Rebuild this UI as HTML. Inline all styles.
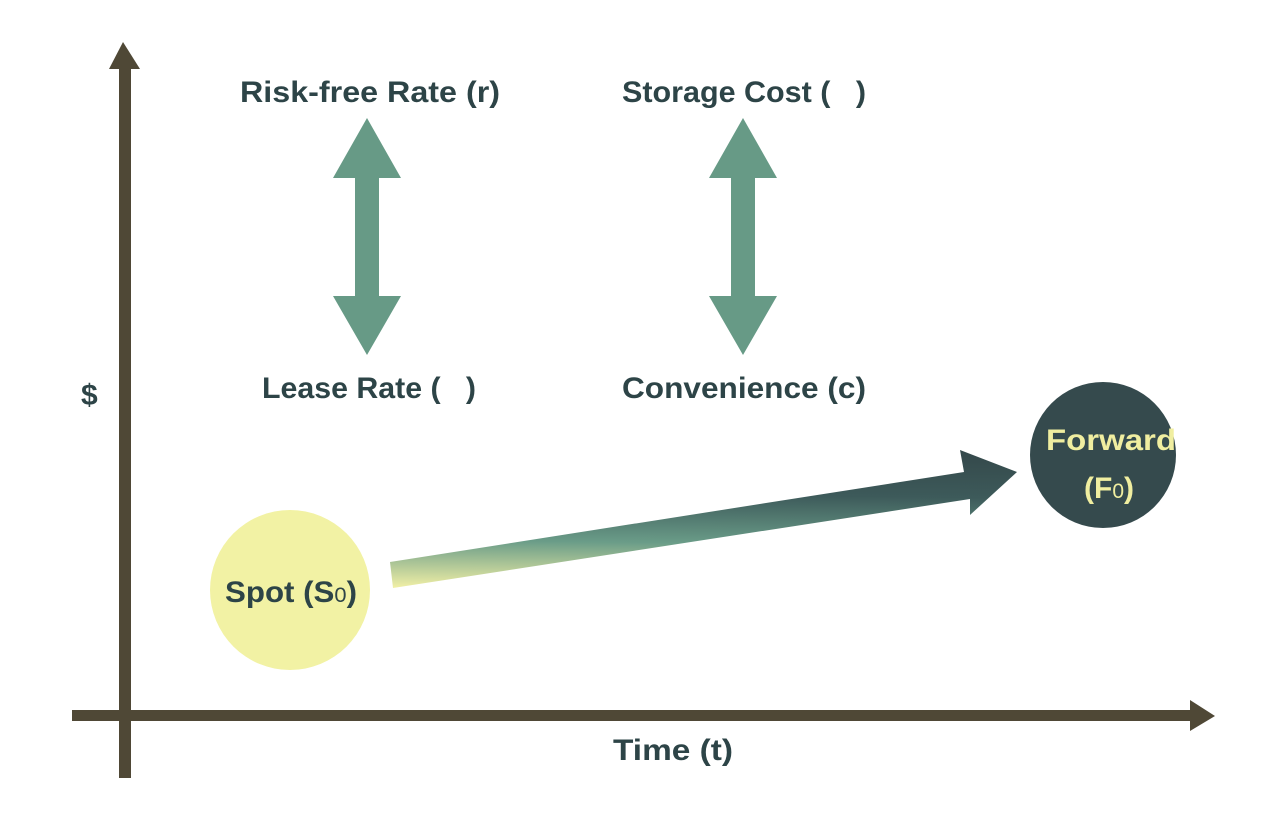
<!DOCTYPE html>
<html><head><style>
body{margin:0;background:#fff;}
svg text{font-family:"Liberation Sans",sans-serif;font-weight:bold;white-space:pre;}
</style></head><body>
<svg width="1277" height="818" viewBox="0 0 1277 818" xmlns="http://www.w3.org/2000/svg">
<defs>
<linearGradient id="g" x1="0" y1="1" x2="0.05" y2="0" gradientUnits="objectBoundingBox">
<stop offset="0" stop-color="#f2f0a6"/>
<stop offset="0.35" stop-color="#6a9c88"/>
<stop offset="0.7" stop-color="#3d5a5a"/>
<stop offset="1" stop-color="#354a4c"/>
</linearGradient>
</defs>
<rect x="119" y="68" width="12" height="710" fill="#4f4836"/>
<polygon points="123,42 109,69 140,69" fill="#4f4836"/>
<rect x="72" y="710" width="1120" height="11" fill="#4f4836"/>
<polygon points="1215,716 1190,700 1190,731" fill="#4f4836"/>
<g fill="#679a86">
<polygon points="367,118 401,178 379,178 379,296 401,296 367,355 333,296 355,296 355,178 333,178"/>
<polygon points="743,118 777,178 755,178 755,296 777,296 743,355 709,296 731,296 731,178 709,178"/>
</g>
<polygon points="390,562 964,472 960,450 1017,472 970,515 970,499 393,588" fill="url(#g)"/>
<circle cx="290" cy="590" r="80" fill="#f2f2a4"/>
<circle cx="1103" cy="455" r="73" fill="#354a4d"/>
<g fill="#2d4447" font-size="30">
<text x="240" y="102" textLength="260" lengthAdjust="spacingAndGlyphs">Risk-free Rate (r)</text>
<text x="622" y="102" textLength="244" lengthAdjust="spacingAndGlyphs">Storage Cost (   )</text>
<text x="262" y="398" textLength="214" lengthAdjust="spacingAndGlyphs">Lease Rate (   )</text>
<text x="622" y="398" textLength="244" lengthAdjust="spacingAndGlyphs">Convenience (c)</text>
<text x="81" y="405">$</text>
<text x="613" y="760" textLength="120" lengthAdjust="spacingAndGlyphs">Time (t)</text>
<text x="225" y="602" textLength="132" lengthAdjust="spacingAndGlyphs">Spot (S<tspan font-size="21" font-weight="normal">0</tspan>)</text>
</g>
<g fill="#f0eea0" font-size="30">
<text x="1046" y="450" textLength="130" lengthAdjust="spacingAndGlyphs">Forward</text>
<text x="1084" y="498">(F<tspan font-size="21" font-weight="normal">0</tspan>)</text>
</g>
</svg>
</body></html>
